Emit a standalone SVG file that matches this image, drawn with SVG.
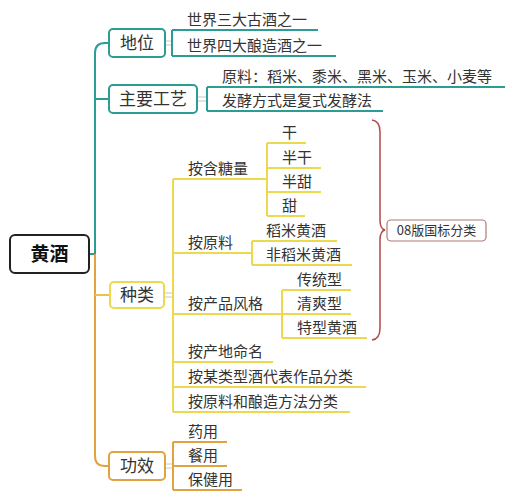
<svg xmlns="http://www.w3.org/2000/svg" width="516" height="500" viewBox="0 0 516 500">
<style>
text{font-family:"Noto Sans CJK SC","Noto Sans",sans-serif;fill:#333;}
.t{font-size:15px;}
.b{font-size:17px;text-anchor:middle;}
.teal{stroke:#2b9d95;stroke-width:2;fill:none;}
.yel{stroke:#ecd94e;stroke-width:2;fill:none;}
.org{stroke:#e2a23e;stroke-width:2;fill:none;}
.dot{stroke:#c8c8c8;stroke-width:1;fill:none;}
</style>
<rect width="516" height="500" fill="#fff"/>
<g id="connectors">
  <path class="teal" d="M89,254 H95 V53 Q95,43 105,43 H109"/>
  <path class="teal" d="M95,99 H109"/>
  <path class="org" d="M95,254 V456 Q95,466 105,466 H109"/>
  <path d="M95,295 H110" fill="none" stroke="#e8c440" stroke-width="2"/>
  <path class="dot" d="M165,41 H172 M165,45 H172"/>
  <path class="teal" d="M172,30 V56 M172,30 H318 M172,56 H336"/>
  <path class="dot" d="M197,97 H207 M197,101 H207"/>
  <path class="teal" d="M207,87 V111 M207,87 H505 M207,111 H383"/>
  <path class="dot" d="M164,293 H173 M164,297 H173"/>
  <path class="yel" d="M173,179 V412 M173,179 H267 M173,253 H252 M173,314 H282 M173,362 H273 M173,387 H366 M173,412 H350"/>
  <path class="yel" d="M267,143 V216 M267,143 H306 M267,168 H321 M267,192 H321 M267,216 H305"/>
  <path class="yel" d="M252,241 V265 M252,241 H337 M252,265 H352"/>
  <path class="yel" d="M282,290 V338 M282,290 H351 M282,314 H351 M282,338 H367"/>
  <path class="dot" d="M165,464 H173 M165,468 H173"/>
  <path class="org" d="M173,442 V490 M173,442 H227 M173,466 H227 M173,490 H242"/>
  <path d="M372,120 Q380,121 380,132 V220 Q380,229 385,230 Q380,231 380,240 V328 Q380,339 372,340" fill="none" stroke="#b04a4a" stroke-width="1.5"/>
</g>
<g id="root">
  <rect x="10" y="235" width="79" height="38" rx="5" fill="#fff" stroke="#222" stroke-width="2"/>
  <text x="49.5" y="261" style="font-size:19px;font-weight:bold;text-anchor:middle;fill:#111">黄酒</text>
</g>
<g id="diwei">
  <rect x="109" y="29" width="56" height="28" rx="4" fill="#fff" stroke="#2b9d95" stroke-width="2"/>
  <text class="b" x="137" y="49">地位</text>
</g>
<g id="diwei-1"><text class="t" x="187" y="25">世界三大古酒之一</text></g>
<g id="diwei-2"><text class="t" x="187" y="51">世界四大酿造酒之一</text></g>
<g id="gongyi">
  <rect x="109" y="85" width="88" height="28" rx="4" fill="#fff" stroke="#2b9d95" stroke-width="2"/>
  <text class="b" x="153" y="105">主要工艺</text>
</g>
<g id="gongyi-1"><text class="t" x="222" y="82">原料：稻米、黍米、黑米、玉米、小麦等</text></g>
<g id="gongyi-2"><text class="t" x="222" y="106">发酵方式是复式发酵法</text></g>
<g id="zhonglei">
  <rect x="110" y="282" width="54" height="26" rx="4" fill="#fff" stroke="#ecd94e" stroke-width="2"/>
  <text class="b" x="137" y="301">种类</text>
</g>
<g id="tang"><text class="t" x="188" y="174">按含糖量</text></g>
<g id="tang-1"><text class="t" x="282" y="138">干</text></g>
<g id="tang-2"><text class="t" x="282" y="163">半干</text></g>
<g id="tang-3"><text class="t" x="282" y="187">半甜</text></g>
<g id="tang-4"><text class="t" x="282" y="211">甜</text></g>
<g id="yuanliao"><text class="t" x="188" y="248">按原料</text></g>
<g id="yuanliao-1"><text class="t" x="266" y="236">稻米黄酒</text></g>
<g id="yuanliao-2"><text class="t" x="266" y="260">非稻米黄酒</text></g>
<g id="fengge"><text class="t" x="188" y="309">按产品风格</text></g>
<g id="fengge-1"><text class="t" x="297" y="285">传统型</text></g>
<g id="fengge-2"><text class="t" x="297" y="309">清爽型</text></g>
<g id="fengge-3"><text class="t" x="297" y="333">特型黄酒</text></g>
<g id="chandi"><text class="t" x="188" y="357">按产地命名</text></g>
<g id="daibiao"><text class="t" x="188" y="382">按某类型酒代表作品分类</text></g>
<g id="niangzao"><text class="t" x="188" y="407">按原料和酿造方法分类</text></g>
<g id="guobiao">
  <rect x="387" y="220" width="99" height="21" rx="4" fill="#fff" stroke="#b07878" stroke-width="1.2"/>
  <text x="436.5" y="235" style="font-size:13px;text-anchor:middle">08版国标分类</text>
</g>
<g id="gongxiao">
  <rect x="109" y="452" width="56" height="28" rx="4" fill="#fff" stroke="#e2a23e" stroke-width="2"/>
  <text class="b" x="137" y="472">功效</text>
</g>
<g id="gx-1"><text class="t" x="188" y="437">药用</text></g>
<g id="gx-2"><text class="t" x="188" y="461">餐用</text></g>
<g id="gx-3"><text class="t" x="188" y="485">保健用</text></g>
</svg>
